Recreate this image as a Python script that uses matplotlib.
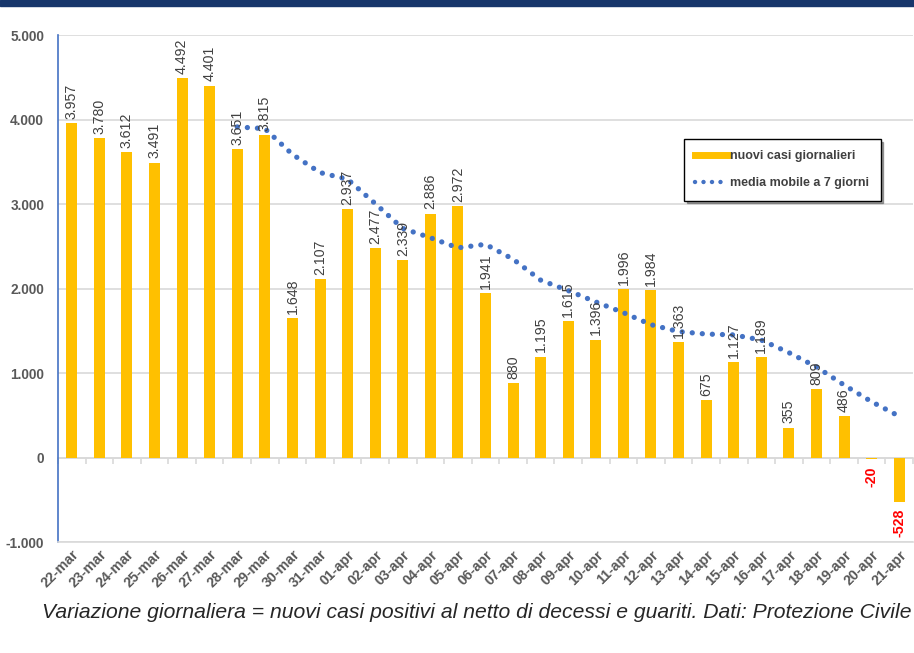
import numpy as np
import matplotlib
matplotlib.use('Agg')
import matplotlib.pyplot as plt
from matplotlib.lines import Line2D
from matplotlib.patches import Rectangle
from matplotlib.ticker import FuncFormatter

plt.rcParams['font.family'] = ['Liberation Sans', 'DejaVu Sans']

# === Data ===
days = ['22-mar', '23-mar', '24-mar', '25-mar', '26-mar', '27-mar', '28-mar', '29-mar',
        '30-mar', '31-mar', '01-apr', '02-apr', '03-apr', '04-apr', '05-apr', '06-apr',
        '07-apr', '08-apr', '09-apr', '10-apr', '11-apr', '12-apr', '13-apr', '14-apr',
        '15-apr', '16-apr', '17-apr', '18-apr', '19-apr', '20-apr', '21-apr']
new_cases = [3957, 3780, 3612, 3491, 4492, 4401, 3651, 3815, 1648, 2107, 2937, 2477,
             2339, 2886, 2972, 1941, 880, 1195, 1615, 1396, 1996, 1984, 1363, 675,
             1127, 1189, 355, 809, 486, -20, -528]
# 7-day moving average, starts on 28-mar
ma_days = days[6:]
ma7 = [3912, 3892, 3587, 3372, 3293, 3005, 2711, 2601, 2481, 2523, 2347, 2099, 1975,
       1841, 1714, 1572, 1490, 1461, 1451, 1390, 1241, 1072, 858, 660, 488]

bar_color = '#FFC000'
line_color = '#4472C4'
grid_color = '#D9D9D9'
text_gray = '#595959'

fig = plt.figure(figsize=(9.14, 6.53), dpi=100)
ax = fig.add_axes([58 / 914, 1 - 542 / 653, 855 / 914, 507 / 653])

x = np.arange(len(days))
ax.bar(x, new_cases, width=0.4, color=bar_color, zorder=3)
ma_x = [days.index(d) for d in ma_days]
ax.plot(ma_x, ma7, color=line_color, lw=3.8, linestyle=(0, (0.01, 1.9)),
        dash_capstyle='round', zorder=4)

# bar labels
for xi, v in zip(x, new_cases):
    label = f'{v:,}'.replace(',', '.')
    if v >= 0:
        ax.annotate(label, (xi, v), xytext=(0, 3), textcoords='offset points',
                    rotation=90, ha='center', va='bottom', fontsize=10.2,
                    color='#404040', zorder=5)
    else:
        ax.annotate(label, (xi, v), xytext=(0, -5), textcoords='offset points',
                    rotation=90, ha='center', va='top', fontsize=10.2,
                    color='#FF0000', fontweight='bold', zorder=5)

# axes styling
ax.set_xlim(-0.5, len(days) - 0.5)
ax.set_ylim(-1000, 5000)
ax.set_yticks(range(-1000, 5001, 1000))
ax.yaxis.set_major_formatter(FuncFormatter(lambda v, p: f'{int(v):,}'.replace(',', '.')))
ax.tick_params(axis='y', length=0, pad=10, labelsize=9.8, labelcolor=text_gray)
for lab in ax.get_yticklabels():
    lab.set_fontweight('bold')
ax.grid(axis='y', color=grid_color, lw=1.2, zorder=0)
ax.set_axisbelow(True)

ax.set_xticks(x)
ax.set_xticklabels(days, rotation=45, ha='right', rotation_mode='anchor',
                   fontsize=10.2, fontweight='bold', color=text_gray)
ax.tick_params(axis='x', length=0, pad=4)

for s in ['top', 'right']:
    ax.spines[s].set_visible(False)
ax.spines['left'].set_color(line_color)
ax.spines['left'].set_linewidth(1.2)
ax.spines['bottom'].set_color(grid_color)
ax.spines['bottom'].set_linewidth(1.2)

# zero axis with category boundary ticks
zax = ax.secondary_xaxis(1 / 6)
zax.set_xticks(np.arange(len(days) + 1) - 0.5)
zax.set_xticklabels([])
zax.tick_params(axis='x', direction='out', length=4, color=grid_color, width=1.2)
zax.spines['bottom'].set_color(grid_color)
zax.spines['bottom'].set_linewidth(1.2)

# legend
handles = [Line2D([], [], color=bar_color, lw=5),
           Line2D([], [], color=line_color, lw=3.2, linestyle=(0, (0.01, 1.9)),
                  dash_capstyle='round')]
leg = fig.legend(handles, ['nuovi casi giornalieri', 'media mobile a 7 giorni'],
                 loc='upper left', bbox_to_anchor=(684 / 914, 1 - 139 / 653),
                 frameon=True, fancybox=False, shadow=True, fontsize=9,
                 handlelength=2.6, handletextpad=0.2, labelspacing=1.2,
                 borderpad=0.9, borderaxespad=0)
leg.get_frame().set_edgecolor('black')
leg.get_frame().set_linewidth(1.0)
for t in leg.get_texts():
    t.set_color('#404040')
    t.set_fontweight('bold')

# top band and caption
fig.patches.append(Rectangle((0, 1 - 6 / 653), 1, 6 / 653, transform=fig.transFigure,
                             color='#17366B', zorder=10))
fig.text(912 / 914, 1 - 613 / 653,
         'Variazione giornaliera = nuovi casi positivi al netto di decessi e guariti. Dati: Protezione Civile',
         ha='right', va='center', fontsize=15.2, style='italic', color='#262626')

fig.savefig('out.png', dpi=100)
